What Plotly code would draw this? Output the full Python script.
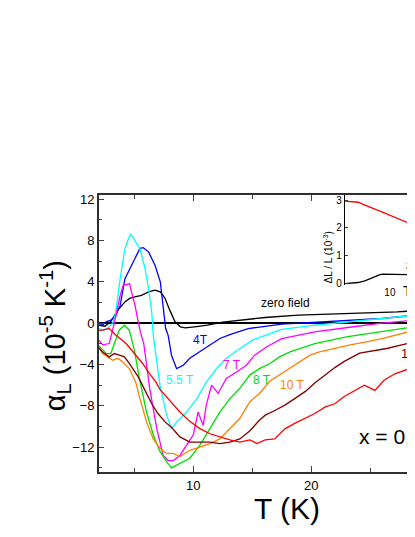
import plotly.graph_objects as go

# Main panel: thermal expansion alpha_L (10^-5 K^-1) versus T (K)
T_zero = [2.0, 2.5, 3.0, 3.6, 4.2, 4.6, 5.05, 5.6, 6.2, 6.75, 7.2, 7.6, 8.0, 8.45, 8.9, 9.3,
          10.1, 11.2, 12.5, 13.5, 16.1, 18.9, 21.7, 24.5, 27.3, 28.8]
a_zero = [-0.2, -0.3, 0.15, 1.26, 2.06, 2.4, 2.55, 2.7, 3.03, 3.2, 3.03, 2.4, 1.26, 0.13, -0.35, -0.45,
          -0.35, -0.2, 0.1, 0.22, 0.55, 0.77, 0.87, 0.94, 1.1, 1.2]

T_4T = [2.0, 2.3, 2.6, 3.0, 3.36, 3.8, 4.2, 4.8, 5.05, 5.47, 5.75, 6.2, 6.75, 7.2, 7.45, 7.65, 7.87,
        8.15, 8.58, 9.15, 9.7, 10.56, 11.4, 12.25, 13.1, 14.65, 17.5, 20.3, 23.1, 26.0, 28.8]
a_4T = [0.0, -0.2, 0.13, 0.3, 0.6, 1.74, 4.3, 5.6, 6.26, 7.23, 7.3, 6.9, 5.6, 4.0, 1.74, -0.5, -1.2,
        -3.1, -4.4, -4.07, -3.4, -2.78, -2.13, -1.48, -1.1, -0.52, -0.1, 0.1, 0.3, 0.45, 0.77]

T_55T = [2.0, 2.3, 2.73, 3.15, 3.4, 3.8, 4.2, 4.5, 4.7, 5.05, 5.47, 5.9, 6.2, 6.47, 6.6, 7.17, 7.73,
         8.15, 8.58, 9.42, 10.3, 11.1, 11.97, 12.8, 13.95, 15.1, 17.5, 20.3, 23.1, 26.0, 28.8]
a_55T = [-0.52, -0.68, -0.52, 0.0, 0.9, 4.35, 7.2, 8.2, 8.6, 8.0, 7.2, 5.3, 3.36, 1.1, -1.16, -6.0, -8.9,
         -10.2, -9.55, -8.6, -7.3, -5.7, -4.39, -3.4, -2.45, -1.6, -0.6, -0.2, 0.13, 0.45, 0.77]

T_7T = [2.0, 2.3, 2.87, 3.3, 3.8, 4.06, 4.35, 4.6, 4.76, 5.05, 5.33, 5.5, 5.8, 6.3, 6.9, 7.44, 7.87,
        8.3, 8.86, 9.42, 10.0, 10.4, 10.84, 11.1, 11.55, 12.1, 12.8, 13.7, 14.5, 15.2, 16.2, 17.5,
        20.3, 23.1, 26.0, 28.8]
a_7T = [-1.65, -2.1, -1.97, 0.0, 2.7, 3.68, 3.74, 3.8, 3.0, 1.74, 0.13, -0.8, -2.0, -6.3, -10.2, -12.8,
        -13.3, -13.3, -12.8, -11.8, -10.8, -8.6, -9.9, -7.9, -6.0, -6.8, -5.35, -4.7, -4.07, -3.1, -2.3,
        -1.5, -0.84, -0.42, 0.0, 0.3]

T_8T = [2.0, 2.6, 3.0, 3.3, 3.72, 4.15, 4.57, 5.0, 5.4, 6.03, 6.6, 7.17, 7.73, 8.15, 8.86, 9.7, 10.56,
        11.4, 12.25, 13.1, 13.95, 14.8, 15.6, 16.5, 17.3, 18.2, 19.0, 20.3, 23.1, 26.0, 28.8]
a_8T = [-2.2, -2.94, -2.94, -1.97, -0.68, -0.2, -0.68, -2.6, -5.2, -8.6, -10.8, -12.4, -13.4, -14.0,
        -13.55, -13.07, -11.8, -10.2, -8.6, -7.3, -6.3, -5.0, -4.4, -3.9, -3.26, -2.78, -2.45, -1.97,
        -1.3, -0.84, -0.35]

T_10T = [2.0, 2.3, 2.73, 3.15, 3.6, 4.0, 4.57, 5.14, 5.47, 6.03, 6.6, 7.17, 7.73, 8.3, 8.86, 9.7,
         10.56, 11.4, 12.25, 13.1, 13.95, 14.8, 15.6, 16.5, 17.3, 18.2, 19.0, 19.9, 20.7, 21.9, 23.3,
         24.7, 26.0, 28.8]
a_10T = [-2.3, -2.94, -3.26, -3.6, -3.4, -3.74, -4.39, -5.8, -7.3, -9.55, -11.2, -12.1, -12.6, -12.6,
         -12.9, -12.3, -12.0, -11.65, -11.2, -10.2, -9.2, -7.6, -6.8, -5.6, -5.0, -4.3, -3.7, -3.1,
         -2.78, -2.45, -2.1, -1.8, -1.5, -0.68]

T_12T = [2.0, 2.3, 2.87, 3.3, 3.72, 4.15, 4.57, 5.33, 5.9, 6.47, 7.0, 7.6, 8.16, 8.86, 9.7, 10.56,
         11.4, 12.25, 13.1, 13.95, 14.8, 15.6, 16.1, 17.0, 17.8, 18.6, 19.5, 20.3, 21.2, 22.0, 22.8,
         24.1, 26.4, 28.8]
a_12T = [-2.4, -2.78, -3.26, -2.94, -3.1, -3.26, -3.9, -5.2, -6.5, -7.8, -8.74, -9.55, -10.1, -11.0,
         -11.5, -11.5, -11.5, -11.65, -11.5, -11.2, -10.4, -9.4, -8.9, -8.4, -7.9, -7.3, -6.6, -5.8,
         -5.0, -4.3, -3.7, -2.9, -2.45, -1.8]

T_14T = [2.0, 2.3, 2.87, 3.44, 4.3, 5.14, 5.7, 6.3, 6.83, 7.17, 8.0, 8.86, 9.7, 10.56, 11.4, 12.25,
         13.1, 13.95, 14.8, 15.4, 16.1, 16.9, 17.8, 18.6, 19.5, 20.3, 21.2, 22.0, 22.8, 23.7, 24.5,
         25.4, 26.2, 27.1, 27.9, 28.8]
a_14T = [-0.7, -0.68, -0.52, -1.16, -1.97, -3.1, -3.9, -4.9, -5.7, -6.4, -7.5, -8.6, -9.5, -10.2,
         -10.7, -11.0, -11.3, -11.5, -11.3, -11.65, -11.3, -11.2, -10.2, -9.7, -9.2, -8.74, -8.1, -7.8,
         -7.1, -6.5, -6.0, -6.5, -5.5, -4.9, -4.55, -4.2]

# Inset: dL/L (10^-3) versus T (K)
T_inset = [2.0, 2.6, 3.2, 4.07, 4.87, 5.2, 6.5, 7.0, 7.8, 10.0, 14.3, 20.5, 24.5]
dL_red = [2.96, 2.95, 2.92, 2.82, 2.74, 2.72, 2.63, 2.6, 2.56, 2.45, 2.3, 2.15, 2.08]
dL_zero = [0.0, 0.01, 0.04, 0.1, 0.17, 0.2, 0.3, 0.32, 0.34, 0.33, 0.32, 0.32, 0.33]

series = [
    (T_zero, a_zero, "#000000"),
    (T_4T, a_4T, "#0000FF"),
    (T_55T, a_55T, "#00FFFF"),
    (T_7T, a_7T, "#FF00FF"),
    (T_8T, a_8T, "#00DD00"),
    (T_10T, a_10T, "#FF8000"),
    (T_12T, a_12T, "#800000"),
    (T_14T, a_14T, "#FF0000"),
]

FONT = "Liberation Sans, Arial, sans-serif"

fig = go.Figure()
for t, a, c in series:
    fig.add_trace(go.Scatter(x=t, y=a, mode="lines", line=dict(color=c, width=1.3),
                             showlegend=False))

fig.add_trace(go.Scatter(x=T_inset, y=dL_red, mode="lines", line=dict(color="#FF0000", width=1.3),
                         xaxis="x2", yaxis="y2", showlegend=False))
fig.add_trace(go.Scatter(x=T_inset, y=dL_zero, mode="lines", line=dict(color="#000000", width=1.3),
                         xaxis="x2", yaxis="y2", showlegend=False))

# curve labels in data coordinates
labels = [
    ("zero field", 17.85, 1.94, "#000000", "center", 12),
    ("4T", 10.65, -1.65, "#0000FF", "center", 12),
    ("5.5 T", 8.86, -5.5, "#00FFFF", "center", 12),
    ("7 T", 13.27, -4.07, "#FF00FF", "center", 12),
    ("8 T", 15.8, -5.5, "#00DD00", "center", 12),
    ("10 T", 18.36, -6.0, "#FF8000", "center", 12),
    ("12 T", 27.45, -2.9, "#800000", "left", 13),
]
annotations = []
for txt, x, y, c, anc, sz in labels:
    annotations.append(dict(text=txt, x=x, y=y, xref="x", yref="y", showarrow=False,
                            xanchor=anc, yanchor="middle",
                            font=dict(size=sz, color=c, family=FONT)))

annotations += [
    dict(text="x = 0.", x=23.85, y=-11.0, xref="x", yref="y", showarrow=False,
         xanchor="left", yanchor="middle", font=dict(size=21, color="black", family=FONT)),
    dict(text="T (K)", x=0.595, y=-0.13, xref="paper", yref="paper", showarrow=False,
         xanchor="center", yanchor="middle", font=dict(size=30, color="black", family=FONT)),
    dict(text="\u03b1<sub>L</sub> (10<sup>-5</sup> K<sup>-1</sup>)", x=-0.139, y=0.49,
         xref="paper", yref="paper", showarrow=False, textangle=-90,
         xanchor="center", yanchor="middle", font=dict(size=29, color="black", family=FONT)),
    dict(text="\u0394L / L (10<sup>-3</sup>)", x=0.725, y=0.775, xref="paper", yref="paper",
         showarrow=False, textangle=-90, xanchor="center", yanchor="middle",
         font=dict(size=10, color="black", family=FONT)),
    dict(text="T (K)", x=0.955, y=0.655, xref="paper", yref="paper", showarrow=False,
         xanchor="left", yanchor="middle", font=dict(size=14, color="black", family=FONT)),
    dict(text="zero field", x=0.965, y=0.744, xref="paper", yref="paper", showarrow=False,
         xanchor="left", yanchor="middle", font=dict(size=10, color="black", family=FONT)),
]

# the page body adds an 8 px offset, so the figure is 8 px smaller than the window
fig.update_layout(
    width=407, height=529,
    margin=dict(l=91, r=0, t=187, b=65, pad=0),
    paper_bgcolor="white", plot_bgcolor="white",
    font=dict(family=FONT, size=13, color="black"),
    showlegend=False,
    annotations=annotations,
    xaxis=dict(range=[2.0, 28.8], tickvals=[10, 20], ticks="inside", ticklen=6,
               minor=dict(dtick=5, tick0=0, ticks="inside", ticklen=4),
               showline=True, linecolor="#303030", linewidth=2, mirror="ticks",
               showgrid=False, zeroline=False, tickfont=dict(size=13)),
    yaxis=dict(range=[-14.4, 12.4], tickvals=[-12, -8, -4, 0, 4, 8, 12], ticks="inside", ticklen=5,
               minor=dict(dtick=2, tick0=0, ticks="inside", ticklen=3),
               showline=True, linecolor="#303030", linewidth=2, mirror=False,
               showgrid=False, zeroline=True, zerolinecolor="black", zerolinewidth=1.5,
               tickfont=dict(size=13)),
    xaxis2=dict(type="log", range=[0.301, 1.39], domain=[0.7785, 1.0], anchor="y2",
                tickvals=[10], ticktext=["10"], ticks="", showline=False, showgrid=False,
                zeroline=False, tickfont=dict(size=10)),
    yaxis2=dict(range=[-0.05, 3.18], domain=[0.675, 1.0], anchor="x2",
                tickvals=[0, 1, 2, 3], ticks="inside", ticklen=3, showline=True,
                linecolor="black", linewidth=1.2, showgrid=False, zeroline=False,
                tickfont=dict(size=10)),
)

fig.write_html("out.html")
